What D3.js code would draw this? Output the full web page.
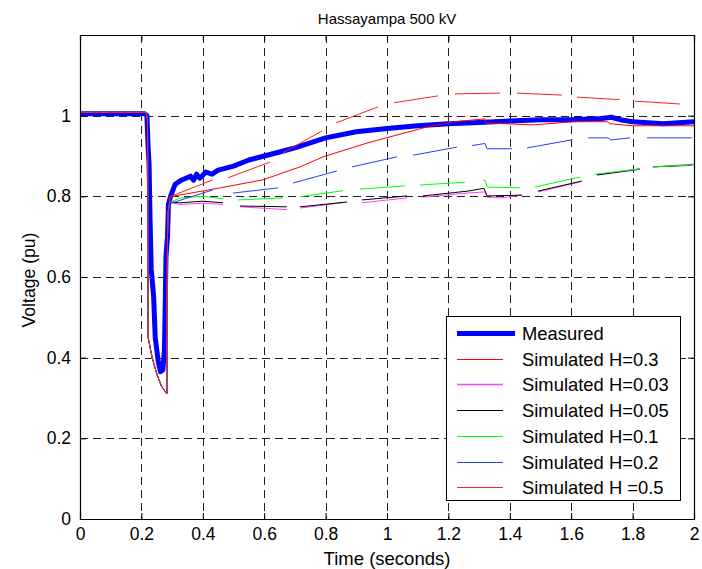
<!DOCTYPE html>
<html>
<head>
<meta charset="utf-8">
<script src="https://cdn.jsdelivr.net/npm/d3@7"></script>
<style>
body { margin: 0; background: #fff; }
text { font-family: "Liberation Sans", Arial, sans-serif; }
</style>
</head>
<body>
<div id="chart"></div>
<script>
var measured = [[0,1.005],[0.21,1.005],[0.218,1.0],[0.222,0.92],[0.225,0.88],[0.228,0.75],[0.232,0.62],
	[0.24,0.55],[0.245,0.45],[0.255,0.39],[0.262,0.365],[0.27,0.37],[0.275,0.42],[0.278,0.55],[0.28,0.65],
	[0.285,0.7],[0.288,0.78],[0.295,0.8],[0.31,0.83],[0.33,0.84],[0.345,0.845],[0.36,0.85],[0.37,0.84],
	[0.38,0.855],[0.39,0.845],[0.41,0.86],[0.43,0.855],[0.45,0.865],[0.5,0.875],[0.55,0.89],[0.6,0.9],
	[0.65,0.91],[0.7,0.92],[0.8,0.945],[0.9,0.96],[1.0,0.968],[1.1,0.975],[1.2,0.98],[1.3,0.983],
	[1.4,0.987],[1.5,0.99],[1.6,0.99],[1.7,0.993],[1.73,0.996],[1.76,0.99],[1.8,0.985],[1.9,0.98],[2.0,0.985]]

// fault dip, common to every simulated run
var faultDip = [[0,1.008],[0.215,1.008],[0.22,0.99],[0.222,0.45],[0.235,0.4],[0.25,0.36],[0.265,0.33],
	[0.283,0.31],[0.285,0.7],[0.287,0.76],[0.292,0.785]]

var simH03 = [[0.293,0.799],[0.45,0.82],[0.596,0.841],[0.717,0.873],[0.792,0.898],[0.935,0.932],[1.13,0.972],
	[1.22,0.985],[1.319,0.992],[1.321,0.982],[1.476,0.977],[1.606,0.985],[1.717,0.985],[1.727,0.98],
	[1.8,0.975],[2.0,0.975]]

var simH003 = [[0.326,0.78],[0.4,0.783],[0.466,0.78],null,[0.521,0.774],[0.674,0.767],null,[0.717,0.771],
	[0.855,0.784],null,[0.918,0.784],[1.065,0.796],null,[1.117,0.798],[1.26,0.808],[1.319,0.811],[1.326,0.798],
	[1.37,0.796],[1.44,0.803],null,[1.492,0.811],[1.63,0.836],null,[1.684,0.853],[1.814,0.865],null,
	[1.872,0.873],[2.0,0.88]]

var simH005 = [[0.326,0.784],[0.4,0.788],[0.466,0.784],null,[0.521,0.776],[0.674,0.774],null,[0.717,0.774],
	[0.87,0.786],null,[0.918,0.791],[1.065,0.801],null,[1.117,0.801],[1.264,0.813],[1.316,0.82],[1.326,0.801],
	[1.44,0.803],null,[1.492,0.813],[1.635,0.838],null,[1.684,0.853],[1.824,0.868],null,[1.866,0.873],
	[1.993,0.877]]

var simH01 = [[0.326,0.796],[0.4,0.8],[0.466,0.794],null,[0.515,0.791],[0.661,0.796],null,[0.717,0.799],
	[0.857,0.814],null,[0.912,0.818],[1.059,0.826],null,[1.107,0.828],[1.254,0.835],null,[1.313,0.84],
	[1.319,0.84],[1.326,0.823],[1.433,0.821],null,[1.482,0.823],[1.629,0.848],null,[1.678,0.855],
	[1.824,0.868],null,[1.866,0.873],[2.0,0.878]]

var simH02 = [[0.309,0.786],[0.433,0.816],null,[0.498,0.808],[0.645,0.821],null,[0.694,0.833],[0.837,0.863],
	null,[0.886,0.873],[1.033,0.898],null,[1.085,0.902],[1.228,0.922],null,[1.277,0.926],[1.319,0.931],
	[1.326,0.918],[1.407,0.918],null,[1.456,0.92],[1.602,0.94],null,[1.655,0.945],[1.72,0.945],[1.73,0.94],
	[1.792,0.945],null,[1.847,0.945],[1.993,0.945]]

var simH05 = [[0.293,0.799],[0.433,0.841],null,[0.482,0.846],[0.619,0.885],null,[0.661,0.908],[0.788,0.962],
	null,[0.834,0.982],[0.971,1.022],null,[1.023,1.032],[1.166,1.049],null,[1.221,1.054],[1.368,1.056],null,
	[1.423,1.056],[1.57,1.051],null,[1.619,1.046],[1.75,1.04],[1.759,1.041],null,[1.808,1.036],[1.954,1.029]]

var seriesNames = ["Measured", "Simulated H=0.3", "Simulated H=0.03", "Simulated H=0.05", "Simulated H=0.1", "Simulated H=0.2", "Simulated H =0.5"]
var seriesColors = ["#0000ff", "#ff0000", "#ff40ff", "#000000", "#00ff00", "#2a3cff", "#ff2020"]
var seriesData = [measured, faultDip.concat(simH03), faultDip.concat(simH003), faultDip.concat(simH005),
	faultDip.concat(simH01), faultDip.concat(simH02), faultDip.concat(simH05)]

var xTicks = [0, 0.2, 0.4, 0.6, 0.8, 1, 1.2, 1.4, 1.6, 1.8, 2]
var yTicks = [0, 0.2, 0.4, 0.6, 0.8, 1]

var width = 702, height = 569
var plotLeft = 80, plotRight = 694, plotTop = 35, plotBottom = 519

var svg = d3.select("#chart").append("svg")
	.attr("width", width)
	.attr("height", height)

var x = d3.scaleLinear().domain([0, 2]).range([plotLeft, plotRight])
var y = d3.scaleLinear().domain([0, 1.2]).range([plotBottom, plotTop])

// grid
svg.selectAll(".gx").data(xTicks.slice(1, -1)).enter().append("line")
	.attr("x1", function(d){return Math.round(x(d)) + 0.5}).attr("x2", function(d){return Math.round(x(d)) + 0.5})
	.attr("y1", plotTop).attr("y2", plotBottom)
	.attr("stroke", "#222").attr("stroke-width", 1).attr("stroke-dasharray", "8,5")
svg.selectAll(".gy").data(yTicks.slice(1)).enter().append("line")
	.attr("x1", plotLeft).attr("x2", plotRight)
	.attr("y1", function(d){return Math.round(y(d)) + 0.5}).attr("y2", function(d){return Math.round(y(d)) + 0.5})
	.attr("stroke", "#222").attr("stroke-width", 1).attr("stroke-dasharray", "8,5")

// lines
var line = d3.line()
	.defined(function(d){return d != null})
	.x(function(d){return x(d[0])})
	.y(function(d){return y(d[1])})

var plot = svg.append("g")
for(var i = 0; i < seriesData.length; i++)
{
	plot.append("path")
		.attr("d", line(seriesData[i]))
		.attr("fill", "none")
		.attr("stroke", seriesColors[i])
		.attr("stroke-width", i == 0 ? 5 : 1)
		.attr("stroke-linejoin", "round")
}

// axes (ticks inward, on all four sides)
svg.append("g").attr("transform", "translate(0," + plotBottom + ")")
	.call(d3.axisBottom(x).tickValues(xTicks).tickSize(-6).tickPadding(9).tickFormat(d3.format("")))
svg.append("g").attr("transform", "translate(0," + plotTop + ")")
	.call(d3.axisTop(x).tickValues(xTicks).tickSize(-6).tickFormat(""))
svg.append("g").attr("transform", "translate(" + plotLeft + ",0)")
	.call(d3.axisLeft(y).tickValues(yTicks).tickSize(-6).tickPadding(9).tickFormat(d3.format("")))
svg.append("g").attr("transform", "translate(" + plotRight + ",0)")
	.call(d3.axisRight(y).tickValues(yTicks).tickSize(-6).tickFormat(""))

svg.selectAll(".domain").attr("stroke", "#000").attr("stroke-width", 1.2)
svg.selectAll(".tick line").attr("stroke", "#000")
svg.selectAll(".tick text").attr("font-size", 17.5).attr("fill", "#000")
	.attr("font-family", "Liberation Sans, Arial, sans-serif")

// titles
svg.append("text").attr("x", (plotLeft + plotRight) / 2).attr("y", 24)
	.attr("text-anchor", "middle").attr("font-size", 15).text("Hassayampa 500 kV")
svg.append("text").attr("x", (plotLeft + plotRight) / 2).attr("y", 565)
	.attr("text-anchor", "middle").attr("font-size", 18.5).text("Time (seconds)")
svg.append("text").attr("transform", "translate(35,280) rotate(-90)")
	.attr("text-anchor", "middle").attr("font-size", 17.6).text("Voltage (pu)")

// legend
var legend = svg.append("g")
legend.append("rect").attr("x", 446.5).attr("y", 316.5).attr("width", 234).attr("height", 184)
	.attr("fill", "#fff").attr("stroke", "#000").attr("stroke-width", 1)
for(var i = 0; i < seriesNames.length; i++)
{
	var ly = Math.round(333 + i * 25.7) + 0.5
	legend.append("line")
		.attr("x1", 457).attr("x2", i == 0 ? 515 : 503)
		.attr("y1", ly).attr("y2", ly)
		.attr("stroke", seriesColors[i]).attr("stroke-width", i == 0 ? 5 : (i == 2 ? 1.6 : 1))
	legend.append("text").attr("x", 522).attr("y", ly + 6.5)
		.attr("font-size", 18.4).text(seriesNames[i])
}
</script>
</body>
</html>
